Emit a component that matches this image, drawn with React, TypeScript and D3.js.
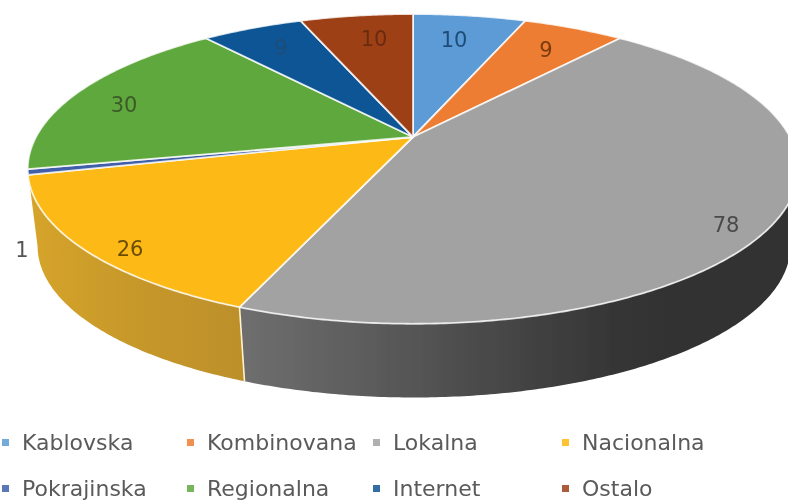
import React from "react";
import * as d3 from "d3";

const categories = ["Kablovska", "Kombinovana", "Lokalna", "Nacionalna", "Pokrajinska", "Regionalna", "Internet", "Ostalo"];
const values = [10, 9, 78, 26, 1, 30, 9, 10];
const colors = ["#5b9bd5", "#ed7d31", "#a2a2a2", "#fdb912", "#3f5fa8", "#5fa83c", "#0a5494", "#9e4119"];
const labelColors = ["#1f4e79", "#7a3c10", "#4a4a4a", "#6b4e05", "#555", "#3d5a28", "#1f4e79", "#6b2a10"];
const labelPos: [number, number][] = [[454, 40], [546, 50], [726, 225], [130, 249], [22, 250], [124, 105], [281, 48], [374, 39]];
const legendCols = [22, 207, 393, 582];
const legendRows = [450, 496];

const cx = 413, cy = 137, Rx = 377, Ry = 148.3, k = 0.206;
const depth = 78, shrink = 0.977, tangent = 1.78;

const project = (a: number, dy = 0, s = 1, dx = 0): [number, number] => {
  const u = Math.sin(a), v = -Math.cos(a), w = 1 - k * v;
  return [cx + dx + (Rx * s * u) / w, cy + dy + (Ry * s * v) / w];
};
const arcPts = (a0: number, a1: number, dy = 0, s = 1, dx = 0) => {
  const n = Math.max(2, Math.ceil(Math.abs(a1 - a0) / 0.01));
  return d3.range(n + 1).map((i) => project(a0 + ((a1 - a0) * i) / n, dy, s, dx));
};

export default function App() {
  const arcs = d3.pie<number>().sort(null)(values);
  const line = d3.line();
  const right = tangent, left = 2 * Math.PI - tangent;
  const mid = arcs[2].endAngle;

  const sides = [
    { i: 3, a0: mid, a1: left, fill: "url(#goldSide)" },
    { i: 2, a0: right, a1: mid, fill: "url(#graySide)" },
  ];

  return (
    <svg width={788} height={500} style={{ position: "absolute", left: 0, top: 0, background: "#fff" }}>
      <defs>
        <linearGradient id="graySide" gradientUnits="userSpaceOnUse" x1={245} x2={788} y1={0} y2={0}>
          <stop offset="0" stopColor="#6e6e6e" />
          <stop offset="0.3" stopColor="#565656" />
          <stop offset="0.55" stopColor="#404040" />
          <stop offset="0.7" stopColor="#343434" />
          <stop offset="1" stopColor="#303030" />
        </linearGradient>
        <linearGradient id="goldSide" gradientUnits="userSpaceOnUse" x1={30} x2={247} y1={0} y2={0}>
          <stop offset="0" stopColor="#d6a429" />
          <stop offset="0.5" stopColor="#c6982c" />
          <stop offset="1" stopColor="#bd8f2c" />
        </linearGradient>
        <filter id="soft" x="-5%" y="-5%" width="110%" height="110%">
          <feGaussianBlur stdDeviation="0.7" />
        </filter>
      </defs>
      <g filter="url(#soft)">
        {sides.map((s) => {
          const top = arcPts(s.a0, s.a1);
          const bottom = arcPts(s.a1, s.a0, depth, shrink, 1);
          return <path key={s.i} d={line([...top, ...bottom])! + "Z"} fill={s.fill} />;
        })}
        <path d={line([project(mid), project(mid, depth, shrink, 1)])!} stroke="#fff3d0" strokeWidth={1.6} fill="none" />
        {arcs.map((d, i) => (
          <path
            key={categories[i]}
            d={line([[cx, cy], ...arcPts(d.startAngle, d.endAngle)])! + "Z"}
            fill={colors[i]}
            stroke="#fff"
            strokeOpacity={0.8}
            strokeWidth={1.8}
            strokeLinejoin="round"
          />
        ))}
      </g>
      <g filter="url(#soft)" style={{ fontFamily: "'DejaVu Sans'" }}>
        {values.map((v, i) => (
          <text key={i} x={labelPos[i][0]} y={labelPos[i][1]} textAnchor="middle" dominantBaseline="central" fontSize={21} fill={labelColors[i]}>
            {v}
          </text>
        ))}
        {categories.map((c, i) => {
          const x = legendCols[i % 4], y = legendRows[Math.floor(i / 4)];
          return (
            <g key={c}>
              <rect x={x - 20} y={y - 11} width={7} height={7} fill={colors[i]} opacity={0.85} />
              <text x={x} y={y} fontSize={22} fill="#5a5a5a">
                {c}
              </text>
            </g>
          );
        })}
      </g>
    </svg>
  );
}
